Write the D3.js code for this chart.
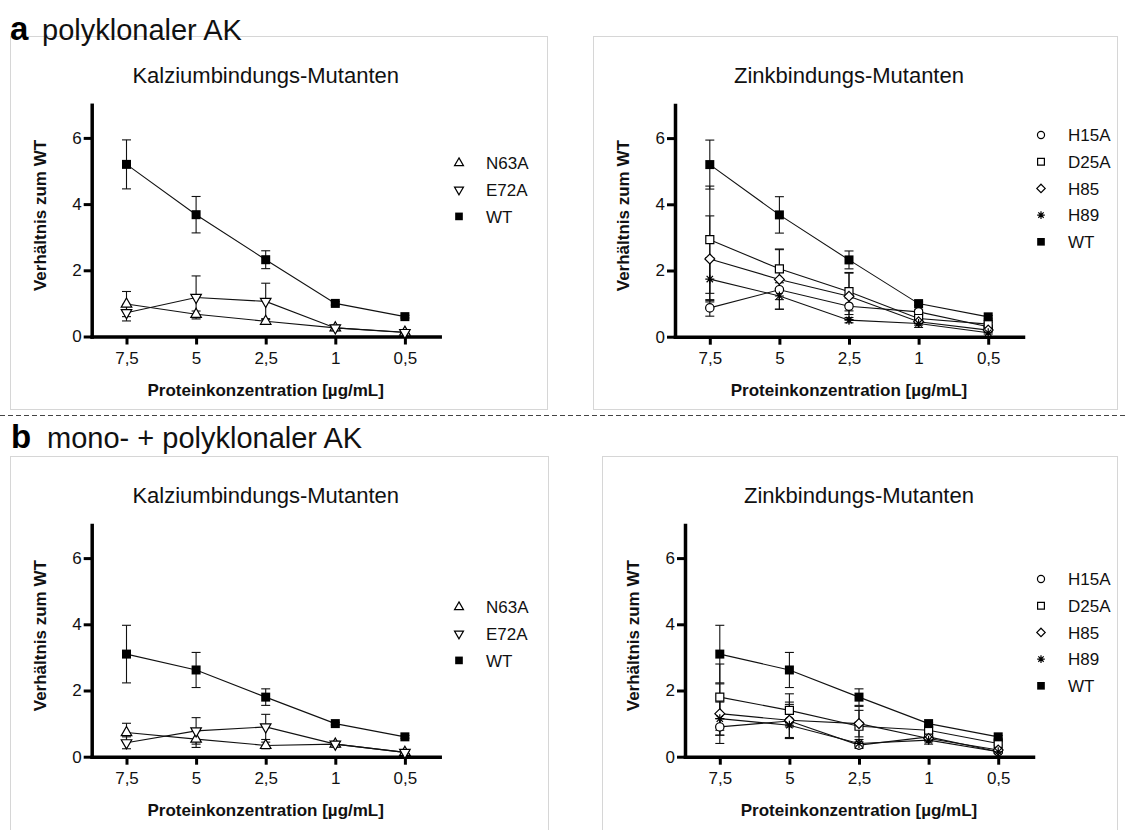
<!DOCTYPE html>
<html>
<head>
<meta charset="utf-8">
<script src="https://cdn.jsdelivr.net/npm/d3@7"></script>
<style>
  html, body { margin: 0; padding: 0; background: #fff; }
  svg { display: block; font-family: "Liberation Sans", Arial, Helvetica, sans-serif; }
</style>
</head>
<body>
<svg id="fig" width="1126" height="830"></svg>
<script>
// ---- data -------------------------------------------------------------
const concentrations = ["7,5", "5", "2,5", "1", "0,5"];
const yTickValues = [0, 2, 4, 6];
const yMax = 7;

// a: polyklonaler AK
const aWT      = [5.20, 3.68, 2.32, 1.00, 0.60];
const aWTErr   = [0.74, 0.55, 0.27, 0.05, 0.04];
const aN63A    = [0.98, 0.67, 0.46, 0.26, 0.13];
const aN63AErr = [0.38, 0.10, 0.08, 0.08, 0.04];
const aE72A    = [0.72, 1.18, 1.06, 0.26, 0.12];
const aE72AErr = [0.25, 0.65, 0.55, 0.08, 0.04];
const aH15A    = [0.87, 1.42, 0.92, 0.75, 0.30];
const aH15AErr = [0.25, 0.30, 0.25, 0.08, 0.05];
const aD25A    = [2.93, 2.05, 1.36, 0.55, 0.38];
const aD25AErr = [1.62, 0.60, 0.58, 0.10, 0.05];
const aH85     = [2.35, 1.73, 1.22, 0.45, 0.20];
const aH85Err  = [1.30, 0.90, 0.70, 0.10, 0.05];
const aH89     = [1.74, 1.23, 0.50, 0.40, 0.12];
const aH89Err  = [0.65, 0.40, 0.08, 0.12, 0.04];

// b: mono- + polyklonaler AK
const bWT      = [3.10, 2.62, 1.80, 1.00, 0.60];
const bWTErr   = [0.87, 0.53, 0.25, 0.04, 0.04];
const bN63A    = [0.73, 0.53, 0.34, 0.38, 0.13];
const bN63AErr = [0.28, 0.25, 0.10, 0.08, 0.04];
const bE72A    = [0.42, 0.78, 0.90, 0.38, 0.13];
const bE72AErr = [0.18, 0.40, 0.38, 0.08, 0.04];
const bH15A    = [0.90, 1.08, 0.35, 0.60, 0.15];
const bH15AErr = [0.25, 0.50, 0.10, 0.10, 0.04];
const bD25A    = [1.80, 1.40, 0.92, 0.80, 0.40];
const bD25AErr = [1.00, 0.50, 0.60, 0.10, 0.05];
const bH85     = [1.30, 1.10, 1.00, 0.55, 0.20];
const bH85Err  = [0.90, 0.55, 0.40, 0.10, 0.05];
const bH89     = [1.15, 0.95, 0.40, 0.50, 0.15];
const bH89Err  = [0.50, 0.40, 0.12, 0.12, 0.04];

// ---- marker shapes ------------------------------------------------------
const asterisk8 = {
  draw(ctx, size) {
    const r = Math.sqrt(size) * 0.56;
    for (let i = 0; i < 4; i++) {
      const a = i * Math.PI / 4;
      const dx = r * Math.sin(a), dy = r * Math.cos(a);
      ctx.moveTo(-dx, -dy);
      ctx.lineTo(dx, dy);
    }
  }
};
const markers = {
  wt:      { type: d3.symbolSquare,   size: 81, fill: "#000", rot: 0 },
  triUp:   { type: d3.symbolTriangle, size: 48, fill: "#fff", rot: 0 },
  triDown: { type: d3.symbolTriangle, size: 48, fill: "#fff", rot: 180 },
  circle:  { type: d3.symbolCircle,   size: 55, fill: "#fff", rot: 0 },
  square:  { type: d3.symbolSquare,   size: 64, fill: "#fff", rot: 0 },
  diamond: { type: d3.symbolDiamond2, size: 62, fill: "#fff", rot: 0 },
  star:    { type: asterisk8,         size: 64, fill: "none", rot: 0 }
};

// ---- panel layout -------------------------------------------------------
const plotW = 348, unitPx = 33.1;
const panels = [
  { box: [10, 36, 537, 373], ox: 91.7, oy: 336.5, title: "Kalziumbindungs-Mutanten",
    legend: [459, 163],
    series: [["N63A", aN63A, aN63AErr, "triUp"], ["E72A", aE72A, aE72AErr, "triDown"], ["WT", aWT, aWTErr, "wt"]] },
  { box: [593, 36, 524, 373], ox: 675, oy: 336.7, title: "Zinkbindungs-Mutanten",
    legend: [1041, 135],
    series: [["H15A", aH15A, aH15AErr, "circle"], ["D25A", aD25A, aD25AErr, "square"], ["H85", aH85, aH85Err, "diamond"],
             ["H89", aH89, aH89Err, "star"], ["WT", aWT, aWTErr, "wt"]] },
  { box: [10, 456, 538, 380], ox: 91.7, oy: 756.7, title: "Kalziumbindungs-Mutanten",
    legend: [459, 607],
    series: [["N63A", bN63A, bN63AErr, "triUp"], ["E72A", bE72A, bE72AErr, "triDown"], ["WT", bWT, bWTErr, "wt"]] },
  { box: [602, 456, 515, 380], ox: 685, oy: 756.7, title: "Zinkbindungs-Mutanten",
    legend: [1041, 579],
    series: [["H15A", bH15A, bH15AErr, "circle"], ["D25A", bD25A, bD25AErr, "square"], ["H85", bH85, bH85Err, "diamond"],
             ["H89", bH89, bH89Err, "star"], ["WT", bWT, bWTErr, "wt"]] }
];

const svg = d3.select("#fig");
svg.append("rect").attr("width", 1126).attr("height", 830).attr("fill", "#fff");

function markerPath(key) {
  const m = markers[key];
  return d3.symbol().type(m.type).size(m.size)();
}
function drawMarker(g, key, cx, cy, scale = 1) {
  const m = markers[key];
  g.append("path")
    .attr("d", markerPath(key))
    .attr("transform", `translate(${cx},${cy}) rotate(${m.rot}) scale(${scale})`)
    .attr("fill", m.fill)
    .attr("stroke", "#000")
    .attr("stroke-width", key === "wt" ? 0 : 1.2 / scale);
}

function drawPanel(p) {
  const g = svg.append("g");
  const [bx, by, bw, bh] = p.box;

  g.append("rect")
    .attr("x", bx + 0.5).attr("y", by + 0.5).attr("width", bw).attr("height", bh)
    .attr("fill", "none").attr("stroke", "#d6d6d6").attr("stroke-width", 1);

  const x = d3.scalePoint().domain(concentrations).range([p.ox, p.ox + plotW]).padding(0.5);
  const y = d3.scaleLinear().domain([0, yMax]).range([p.oy, p.oy - yMax * unitPx]);

  // title
  g.append("text")
    .attr("x", p.ox + plotW / 2).attr("y", by + 47)
    .attr("text-anchor", "middle").attr("font-size", 22).attr("fill", "#111")
    .text(p.title);

  // axes
  const yAxis = g.append("g").attr("transform", `translate(${p.ox},0)`)
    .call(d3.axisLeft(y).tickValues(yTickValues).tickSize(8).tickSizeOuter(0).tickPadding(2).tickFormat(d3.format("d")));
  const xAxis = g.append("g").attr("transform", `translate(0,${p.oy})`)
    .call(d3.axisBottom(x).tickSize(8).tickSizeOuter(0).tickPadding(7));
  [yAxis, xAxis].forEach(ax => {
    ax.select(".domain").attr("stroke", "#000").attr("stroke-width", 3.5).attr("stroke-linecap", "square");
    ax.selectAll(".tick line").attr("stroke", "#000").attr("stroke-width", 3);
    ax.selectAll(".tick text").attr("font-size", 17).attr("fill", "#111")
      .attr("font-family", '"Liberation Sans", Arial, sans-serif');
  });

  // axis titles
  g.append("text")
    .attr("transform", `translate(${p.ox - 46},${p.oy - 121})rotate(-90)`)
    .attr("text-anchor", "middle").attr("font-size", 17).attr("font-weight", "bold").attr("fill", "#111")
    .text("Verhältnis zum WT");
  g.append("text")
    .attr("x", p.ox + plotW / 2).attr("y", p.oy + 59)
    .attr("text-anchor", "middle").attr("font-size", 17).attr("font-weight", "bold").attr("fill", "#111")
    .text("Proteinkonzentration [µg/mL]");

  const line = d3.line().x((d, i) => x(concentrations[i])).y(d => y(d));

  // error bars and connecting lines first, markers on top
  p.series.forEach(([name, vals, errs]) => {
    const eg = g.append("g").attr("stroke", "#111").attr("stroke-width", 1.1);
    vals.forEach((v, i) => {
      const cx = x(concentrations[i]);
      const lo = y(Math.max(0, v - errs[i])), hi = y(v + errs[i]);
      eg.append("line").attr("x1", cx).attr("x2", cx).attr("y1", lo).attr("y2", hi);
      eg.append("line").attr("x1", cx - 4.5).attr("x2", cx + 4.5).attr("y1", hi).attr("y2", hi);
      eg.append("line").attr("x1", cx - 4.5).attr("x2", cx + 4.5).attr("y1", lo).attr("y2", lo);
    });
    g.append("path").datum(vals).attr("d", line)
      .attr("fill", "none").attr("stroke", "#111").attr("stroke-width", 1.1);
  });
  p.series.forEach(([name, vals, errs, mk]) => {
    vals.forEach((v, i) => drawMarker(g, mk, x(concentrations[i]), y(v)));
  });

  // legend
  const [lx, ly] = p.legend;
  p.series.forEach(([name, vals, errs, mk], i) => {
    const yy = ly + i * 26.7;
    drawMarker(g, mk, lx, yy, 0.85);
    g.append("text").attr("x", lx + 27).attr("y", yy).attr("dy", "0.36em")
      .attr("font-size", 17).attr("fill", "#111").text(name);
  });
}

panels.forEach(drawPanel);

// section separator
svg.append("line")
  .attr("x1", 0).attr("x2", 1126).attr("y1", 415.5).attr("y2", 415.5)
  .attr("stroke", "#444").attr("stroke-width", 1.2).attr("stroke-dasharray", "5,3");

// section headings
function heading(letter, text, xL, xT, yB) {
  svg.append("text").attr("x", xL).attr("y", yB).attr("font-size", 33).attr("font-weight", "bold")
    .attr("fill", "#000").text(letter);
  svg.append("text").attr("x", xT).attr("y", yB).attr("font-size", 29).attr("fill", "#111").text(text);
}
heading("a", "polyklonaler AK", 10, 42, 40);
heading("b", "mono- + polyklonaler AK", 11, 47, 448);
</script>
</body>
</html>
